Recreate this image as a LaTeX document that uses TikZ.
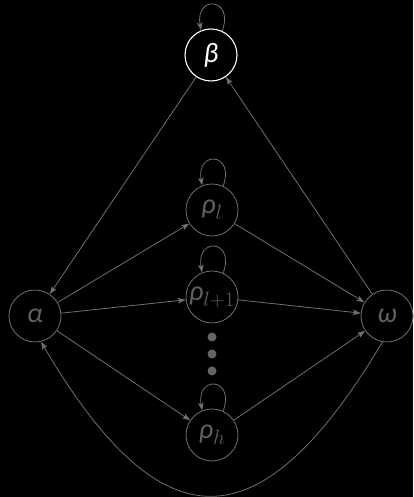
\documentclass[tikz,border=0pt]{standalone}
\usepackage{fontspec}
\setmainfont{Carlito}
\usetikzlibrary{arrows.meta}
\definecolor{edgecol}{RGB}{112,112,112}
\definecolor{txtcol}{RGB}{96,96,96}
\definecolor{dotcol}{RGB}{100,100,100}
\begin{document}
\begin{tikzpicture}[x=1pt,y=1pt,
  state/.style={circle,draw=edgecol,line width=0.8pt,minimum size=52pt,inner sep=0pt,
    text=txtcol,font=\fontsize{28}{30}\selectfont\itshape},
  edge/.style={draw=edgecol,line width=0.8pt,-{Stealth[length=8pt,width=5.5pt,inset=2pt]}},
  dot/.style={circle,fill=dotcol,minimum size=9pt,inner sep=0pt}]
\fill[black] (0,0) rectangle (413,497);
\useasboundingbox (0,0) rectangle (413,497);
\node[state,draw=white,text=white,line width=1.1pt] (b) at (211,442) {β};
\node[state] (rl) at (212,287) {ρ$_{l}$};
\node[state] (rl1) at (212,200) {ρ$_{l+1}$};
\node[dot] (d1) at (212,160) {};
\node[dot] (d2) at (212,143) {};
\node[dot] (d3) at (212,126) {};
\node[state] (rh) at (212,62) {ρ$_{h}$};
\node[state] (a) at (35,181) {α};
\node[state] (w) at (387,181) {ω};
% self loops
\foreach \n in {b,rl,rl1,rh}{
  \draw[edge] (\n.65) .. controls +(70:36pt) and +(100:36pt) .. (\n.112);
}
\draw[edge] (b) -- (a);
\draw[edge] (w) -- (b);
\draw[edge] (a) -- (rl);
\draw[edge] (a) -- (rl1);
\draw[edge] (a) -- (rh);
\draw[edge] (rl) -- (w);
\draw[edge] (rl1) -- (w);
\draw[edge] (rh) -- (w);
\draw[edge] (w.260) .. controls (260,-50) and (162,-50) .. (a.283);
\end{tikzpicture}
\end{document}
